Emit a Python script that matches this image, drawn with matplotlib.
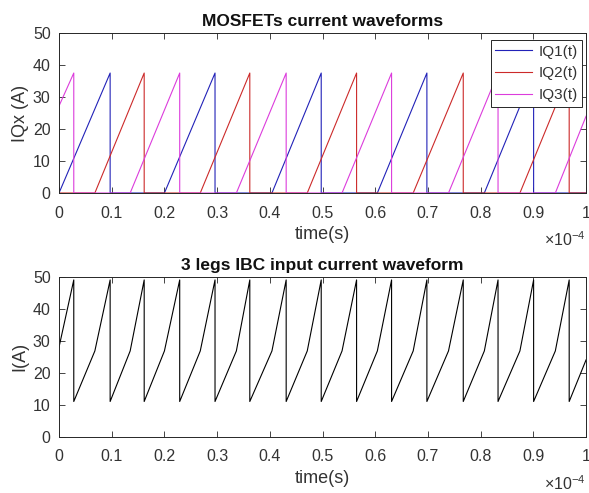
import matplotlib
matplotlib.use("Agg")
import matplotlib.pyplot as plt

plt.rcParams['font.family'] = ['Liberation Sans', 'DejaVu Sans']
plt.rcParams['mathtext.fontset'] = 'custom'
plt.rcParams['mathtext.rm'] = 'Liberation Sans'
plt.rcParams['mathtext.default'] = 'regular'

# ---- data (time in units of 1e-4 s) ----
peak_iq = 37.5
# IQ1 (blue): ramp start times and peak (turn-off) times
iq1_start = [0.0, 0.200, 0.404, 0.604, 0.807]
iq1_peak = [0.097, 0.296, 0.4975, 0.698, 0.9005]
# IQ2 (red)
iq2_start = [0.068, 0.268, 0.471, 0.672, 0.8745]
iq2_peak = [0.1616, 0.362, 0.5646, 0.767, 0.968]
# IQ3 (magenta): value at t=0, then ramps
iq3_t0_value = 27.2
iq3_start = [0.135, 0.3365, 0.537, 0.739, 0.9417]
iq3_peak = [0.028, 0.229, 0.431, 0.631, 0.833]
iq3_end_value = 24.0

# input current: peaks (drop times), kinks (next phase turn-on)
iin_t0_value = 28.0
iin_peak_t = [0.028, 0.097, 0.1616, 0.229, 0.296, 0.362, 0.431, 0.4975,
              0.5646, 0.631, 0.698, 0.767, 0.833, 0.9005, 0.968]
iin_kink_t = [0.068, 0.135, 0.200, 0.268, 0.3365, 0.404, 0.471, 0.537,
              0.604, 0.672, 0.739, 0.807, 0.8745, 0.9417]
iin_peak = 49.0
iin_trough = 11.0
iin_kink = 26.8
iin_end_value = 24.0

x_ticks = [0, 0.1, 0.2, 0.3, 0.4, 0.5, 0.6, 0.7, 0.8, 0.9, 1.0]
x_ticklabels = ['0', '0.1', '0.2', '0.3', '0.4', '0.5', '0.6', '0.7', '0.8', '0.9', '1']
y_ticks = [0, 10, 20, 30, 40, 50]


def iq_line(starts, peaks, t0_val=None, end_val=None):
    ts, vs = [0.0], [t0_val if t0_val is not None else 0.0]
    events = sorted([(s, 's') for s in starts] + [(p, 'p') for p in peaks])
    for t, kind in events:
        if kind == 's':
            ts.append(t); vs.append(0.0)
        else:
            ts.append(t); vs.append(peak_iq)
            ts.append(t); vs.append(0.0)
    ts.append(1.0); vs.append(end_val if end_val is not None else 0.0)
    return ts, vs


t1, v1 = iq_line(iq1_start, iq1_peak)
t2, v2 = iq_line(iq2_start, iq2_peak)
t3, v3 = iq_line(iq3_start, iq3_peak, t0_val=iq3_t0_value, end_val=iq3_end_value)

tin, vin = [0.0], [iin_t0_value]
ev = sorted([(p, 'p') for p in iin_peak_t] + [(k, 'k') for k in iin_kink_t])
for t, kind in ev:
    if kind == 'p':
        tin += [t, t]; vin += [iin_peak, iin_trough]
    else:
        tin.append(t); vin.append(iin_kink)
tin.append(1.0); vin.append(iin_end_value)

fig = plt.figure(figsize=(5.89, 4.93), dpi=100)
ax1 = fig.add_axes([0.1002, 0.6085, 0.8948, 0.3245])
ax2 = fig.add_axes([0.1002, 0.1142, 0.8948, 0.3245])

c_ax = '#262626'
c_tk = '#333333'
for ax in (ax1, ax2):
    ax.set_xlim(0, 1)
    ax.set_ylim(0, 50)
    ax.set_xticks(x_ticks)
    ax.set_xticklabels(x_ticklabels)
    ax.set_yticks(y_ticks)
    ax.tick_params(direction='in', top=True, right=True, length=4, width=0.6,
                   colors=c_ax, labelcolor=c_tk, labelsize=11.5)
    ax.tick_params(axis='x', pad=9)
    ax.tick_params(axis='y', pad=6)
    for s in ax.spines.values():
        s.set_color(c_ax)
        s.set_linewidth(0.7)
    ax.set_xlabel('time(s)', fontsize=13, color=c_tk, labelpad=4)
    ax.text(1.0, -0.235, r'$\times10^{-4}$', transform=ax.transAxes,
            ha='right', va='top', fontsize=11.5, color=c_tk)

ax1.plot(t1, v1, color='#2222b8', lw=0.8, label='IQ1(t)')
ax1.plot(t2, v2, color='#cc2a2a', lw=0.8, label='IQ2(t)')
ax1.plot(t3, v3, color='#dc3cdc', lw=0.8, label='IQ3(t)')
ax1.set_ylabel('IQx (A)', fontsize=13, color=c_tk, labelpad=3)
ax1.set_title('MOSFETs current waveforms', fontsize=12.5, fontweight='bold',
              color='#111111', pad=5)
leg = ax1.legend(loc='upper right', bbox_to_anchor=(0.9924, 0.956),
                 fontsize=11, fancybox=False, framealpha=1,
                 edgecolor=c_ax, handlelength=2.4, borderpad=0.3,
                 labelspacing=0.5, handletextpad=0.4, borderaxespad=0)
leg.get_frame().set_linewidth(0.7)
for txt in leg.get_texts():
    txt.set_color(c_tk)

ax2.plot(tin, vin, color='black', lw=0.8)
ax2.set_ylabel('I(A)', fontsize=13, color=c_tk, labelpad=3)
ax2.set_title('3 legs IBC input current waveform', fontsize=12.5, fontweight='bold',
              color='#111111', pad=5)

fig.savefig('out.png', dpi=100)
